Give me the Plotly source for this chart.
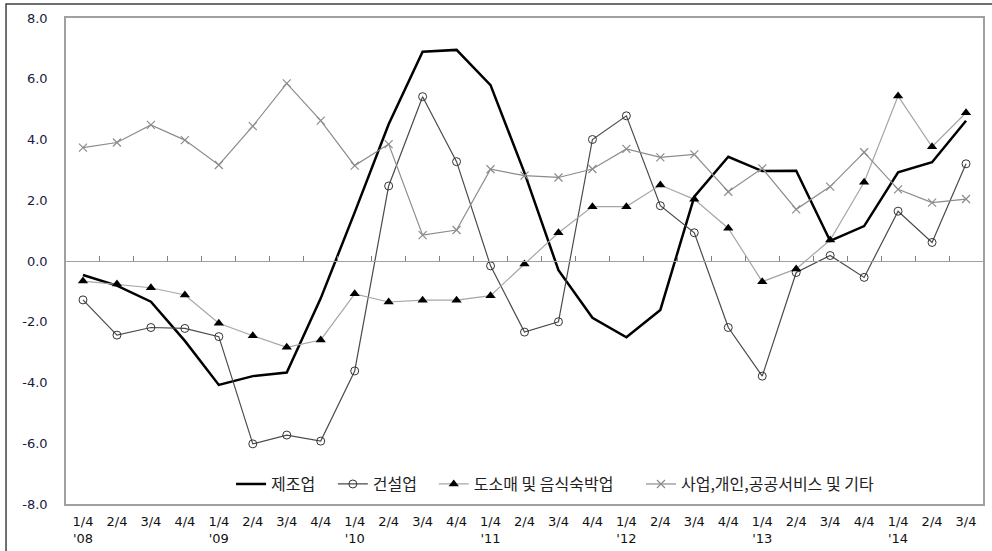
import plotly.graph_objects as go

quarter_ids = [f"{y}Q{q}" for y in range(2008, 2015) for q in range(1, 5)][:27]
tick_labels = ["1/4<br>'08", "2/4", "3/4", "4/4",
               "1/4<br>'09", "2/4", "3/4", "4/4",
               "1/4<br>'10", "2/4", "3/4", "4/4",
               "1/4<br>'11", "2/4", "3/4", "4/4",
               "1/4<br>'12", "2/4", "3/4", "4/4",
               "1/4<br>'13", "2/4", "3/4", "4/4",
               "1/4<br>'14", "2/4", "3/4"]

manufacturing = [-0.46, -0.81, -1.34, -2.63, -4.08, -3.79, -3.67, -1.23,
                 1.6, 4.5, 6.89, 6.95, 5.79, 2.9, -0.3, -1.87,
                 -2.51, -1.61, 2.12, 3.43, 2.96, 2.97, 0.66, 1.15,
                 2.92, 3.25, 4.62]
construction = [-1.28, -2.44, -2.19, -2.22, -2.49, -6.02, -5.73, -5.93,
                -3.62, 2.47, 5.41, 3.27, -0.16, -2.34, -2.0, 4.0,
                4.78, 1.82, 0.93, -2.19, -3.79, -0.38, 0.18, -0.54,
                1.64, 0.61, 3.2]
retail = [-0.66, -0.76, -0.88, -1.12, -2.05, -2.46, -2.84, -2.6,
          -1.08, -1.35, -1.29, -1.29, -1.14, -0.1, 0.93, 1.79,
          1.79, 2.5, 2.03, 1.08, -0.68, -0.26, 0.69, 2.59,
          5.43, 3.76, 4.88]
services = [3.73, 3.9, 4.48, 3.98, 3.16, 4.44, 5.85, 4.62,
            3.14, 3.85, 0.85, 1.02, 3.02, 2.81, 2.75, 3.03,
            3.69, 3.41, 3.51, 2.28, 3.05, 1.7, 2.45, 3.58,
            2.36, 1.92, 2.04]

names = ["제조업", "건설업", "도소매 및 음식숙박업", "사업,개인,공공서비스 및 기타"]
y_ticks = [-8, -6, -4, -2, 0, 2, 4, 6, 8]
n = len(quarter_ids)

fig = go.Figure()
fig.add_trace(go.Scatter(x=quarter_ids, y=manufacturing, name=names[0], mode="lines",
                         legend="legend",
                         line=dict(color="#000000", width=2.5)))
fig.add_trace(go.Scatter(x=quarter_ids, y=construction, name=names[1], mode="lines+markers",
                         legend="legend2",
                         line=dict(color="#4a4a4a", width=1.2),
                         marker=dict(symbol="circle-open", size=8, color="#333333",
                                     line=dict(width=1, color="#333333"))))
fig.add_trace(go.Scatter(x=quarter_ids, y=retail, name=names[2], mode="lines+markers",
                         legend="legend3",
                         line=dict(color="#a6a6a6", width=1.2),
                         marker=dict(symbol="triangle-up", size=9, color="#000000")))
fig.add_trace(go.Scatter(x=quarter_ids, y=services, name=names[3], mode="lines+markers",
                         legend="legend4",
                         line=dict(color="#8c8c8c", width=1.2),
                         marker=dict(symbol="x-thin-open", size=8, color="#8c8c8c",
                                     line=dict(width=1.2, color="#8c8c8c"))))
# invisible trace to host the zero-line tick axis
fig.add_trace(go.Scatter(x=[0, n - 1], y=[None, None], xaxis="x2", mode="lines",
                         showlegend=False, hoverinfo="skip"))


def leg(xpos):
    return dict(orientation="h", x=xpos, xanchor="left", y=0.041, yanchor="middle",
                bgcolor="rgba(0,0,0,0)",
                font=dict(family="Noto Sans CJK KR", size=16, color="#222222"),
                itemwidth=30)


fig.update_layout(
    width=992, height=551,
    margin=dict(l=66, r=9, t=18, b=47, autoexpand=False),
    paper_bgcolor="white", plot_bgcolor="white",
    font=dict(family="DejaVu Sans", size=13, color="#1a1a2e"),
    showlegend=True,
    legend=leg(0.18), legend2=leg(0.291), legend3=leg(0.401), legend4=leg(0.627),
    xaxis=dict(type="category", showgrid=False, zeroline=False, automargin=False,
               showline=True, linecolor="#a0a0a0", linewidth=1.5, mirror=True,
               ticks="", tickangle=0, tickvals=quarter_ids, ticktext=tick_labels,
               tickfont=dict(family="DejaVu Sans", size=13, color="#111111"),
               ticklabelstandoff=5, range=[-0.5, n - 0.5]),
    xaxis2=dict(overlaying="x", anchor="free", position=0.5, side="bottom",
                type="linear", range=[-0.5, n - 0.5],
                tickvals=[i + 0.5 for i in range(n - 1)],
                ticks="inside", ticklen=5, tickcolor="#808080", tickwidth=1,
                showticklabels=False, showgrid=False, zeroline=False,
                showline=True, linecolor="#a0a0a0", linewidth=1, automargin=False),
    yaxis=dict(range=[-8, 8], tickvals=y_ticks, automargin=False,
               ticktext=[f"{v:.1f}" for v in y_ticks],
               showgrid=False, zeroline=False, showline=True, linecolor="#a0a0a0",
               linewidth=1.5, mirror=True, ticks="", ticklabelstandoff=14,
               tickfont=dict(family="DejaVu Sans", size=13, color="#1a1a40")),
    shapes=[dict(type="rect", xref="paper", yref="paper",
                 x0=-0.0654, x1=1.05, y0=-0.2, y1=1.0288,
                 line=dict(color="#404040", width=1.5), fillcolor="rgba(0,0,0,0)",
                 layer="below")],
)

fig.write_html("out.html")
